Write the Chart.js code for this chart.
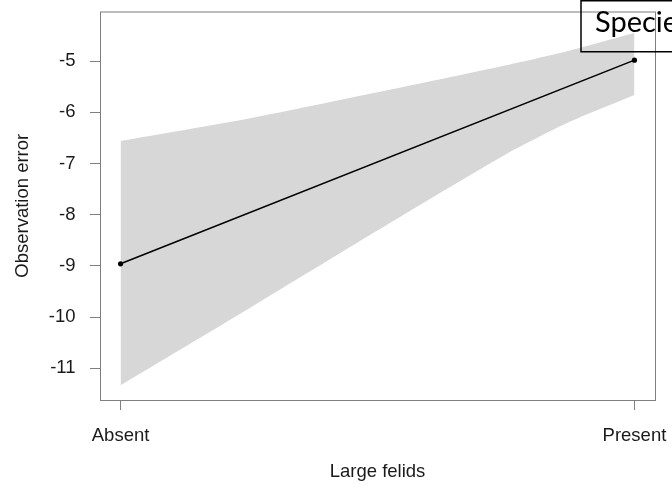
<!DOCTYPE html>
<html>
<head>
<meta charset="utf-8">
<script src="https://cdn.jsdelivr.net/npm/chart.js@4/dist/chart.umd.min.js"></script>
<style>
  html, body { margin: 0; padding: 0; background: #fff; }
  #wrap { width: 672px; height: 491px; }
</style>
</head>
<body>
<div id="wrap"><canvas id="myChart" width="672" height="491"></canvas></div>
<script>
// categories on the x axis (placed at 0 and 1)
const categories = ['Absent', 'Present'];
const meanX = [0, 1];
const meanY = [-8.96, -4.98];

// confidence band
const bandX = [0, 0.25, 0.5, 0.75, 0.875, 1];
const bandUpper = [-6.56, -6.12, -5.61, -5.08, -4.79, -4.45];
const bandLower = [-11.33, -9.83, -8.31, -6.82, -6.18, -5.66];

const yTicks = [-11, -10, -9, -8, -7, -6, -5];

const legendText = 'Species';

const toPoints = (xs, ys) => xs.map((x, i) => ({ x: x, y: ys[i] }));

const textColor = '#1a1a1a';
const axisGrey = '#7f7f7f';
const font = { family: 'Liberation Sans', size: 18.5 };

// stop the scales from asking for extra room for overhanging labels
const noPadding = scale => {
	scale.paddingLeft = 0;
	scale.paddingRight = 0;
	scale.paddingTop = 0;
	scale.paddingBottom = 0;
};

// box round the plot region, plus the boxed label cut off at the top right
const framePlugin = {
	id: 'frame',
	afterDraw(chart) {
		const { ctx, chartArea: a } = chart;
		ctx.save();
		ctx.strokeStyle = axisGrey;
		ctx.lineWidth = 1;
		ctx.strokeRect(a.left + 0.5, a.top + 0.5, a.right - a.left, a.bottom - a.top);

		ctx.strokeStyle = '#000';
		ctx.lineWidth = 1.5;
		ctx.strokeRect(581, 0.75, 200, 51);
		ctx.fillStyle = '#000';
		ctx.font = '29px Lato';
		ctx.textBaseline = 'alphabetic';
		ctx.fillText(legendText, 595, 32);
		ctx.restore();
	}
};

const ctx = document.getElementById('myChart').getContext('2d');

new Chart(ctx, {
	type: 'scatter',
	data: {
		datasets: [
			{
				label: 'upper',
				data: toPoints(bandX, bandUpper),
				showLine: true,
				borderWidth: 0,
				pointRadius: 0,
				backgroundColor: '#d7d7d7',
				fill: '+1',
				tension: 0.25,
				order: 2
			},
			{
				label: 'lower',
				data: toPoints(bandX, bandLower),
				showLine: true,
				borderWidth: 0,
				pointRadius: 0,
				backgroundColor: '#d7d7d7',
				fill: false,
				tension: 0.25,
				order: 3
			},
			{
				label: 'fit',
				data: toPoints(meanX, meanY),
				showLine: true,
				borderColor: '#000',
				borderWidth: 1.6,
				pointRadius: 2.6,
				pointBackgroundColor: '#000',
				pointBorderWidth: 0,
				fill: false,
				order: 0
			}
		]
	},
	options: {
		responsive: false,
		animation: false,
		layout: { padding: { top: 11.5, right: 17, left: 0, bottom: 0 } },
		plugins: {
			legend: { display: false },
			tooltip: { enabled: false }
		},
		scales: {
			x: {
				type: 'linear',
				min: -0.04,
				max: 1.04,
				afterBuildTicks: scale => { scale.ticks = meanX.map(v => ({ value: v })); },
				afterFit: scale => { scale.height = 91; noPadding(scale); },
				ticks: {
					autoSkip: false,
					maxRotation: 0,
					padding: 14.5,
					color: textColor,
					font: font,
					callback: value => categories[value]
				},
				grid: {
					drawOnChartArea: false,
					tickLength: 10,
					tickColor: axisGrey
				},
				border: { display: false },
				title: {
					display: true,
					text: 'Large felids',
					color: textColor,
					font: font,
					padding: { top: 0, bottom: 7.5 }
				}
			},
			y: {
				min: -11.62,
				max: -4.03,
				afterBuildTicks: scale => { scale.ticks = yTicks.map(v => ({ value: v })); },
				afterFit: scale => { scale.width = 100; noPadding(scale); },
				ticks: {
					padding: 14.5,
					color: textColor,
					font: font,
					callback: value => String(value)
				},
				grid: {
					drawOnChartArea: false,
					tickLength: 10,
					tickColor: axisGrey
				},
				border: { display: false },
				title: {
					display: true,
					text: 'Observation error',
					color: textColor,
					font: font,
					padding: { top: 12, bottom: 0 }
				}
			}
		}
	},
	plugins: [framePlugin]
});
</script>
</body>
</html>
